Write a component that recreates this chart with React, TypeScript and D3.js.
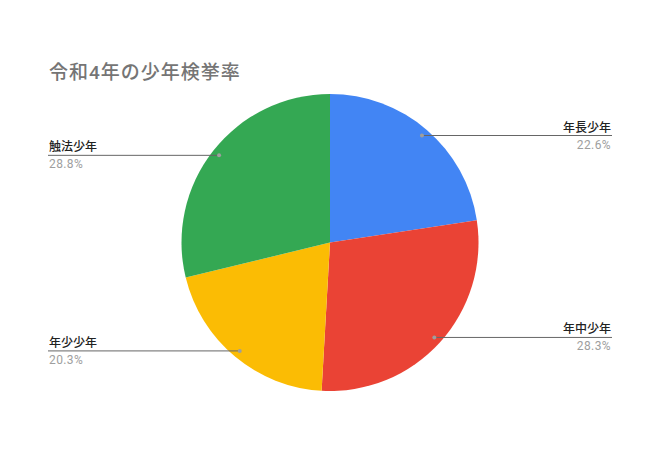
import React from "react";
import * as d3 from "d3";

const categories = ["年長少年", "年中少年", "年少少年", "触法少年"];
const values = [22.6, 28.3, 20.3, 28.8];
const colors = ["#4285f4", "#ea4335", "#fbbc04", "#34a853"];
const title = "令和4年の少年検挙率";

const W = 660;
const H = 450;
const cx = 330;
const cy = 242.5;
const R = 148.5;
const FONT = "Roboto, 'Noto Sans CJK JP', Arial, sans-serif";

export default function App() {
  const pie = d3.pie<number>().sort(null).value((d) => d)(values);
  const arc = d3.arc<d3.PieArcDatum<number>>().innerRadius(0).outerRadius(R);
  const total = d3.sum(values);
  return (
    <div style={{ position: "fixed", left: 0, top: 0 }}>
      <svg width={W} height={H} style={{ display: "block", background: "#fff" }}>
        <text x={49} y={79} fontFamily={FONT} fontSize={19} fontWeight={500} fill="#757575" letterSpacing={1}>
          {title}
        </text>
        <g transform={`translate(${cx},${cy})`}>
          {pie.map((p, i) => (
            <path key={i} d={arc(p) || ""} fill={colors[i]} />
          ))}
        </g>
        {pie.map((p, i) => {
          const mid = (p.startAngle + p.endAngle) / 2;
          const dr = R * 0.95;
          const dx = cx + Math.sin(mid) * dr;
          const dy = cy - Math.cos(mid) * dr;
          const right = Math.sin(mid) > 0;
          const x1 = right ? dx : 48;
          const x2 = right ? 612 : dx;
          const tx = right ? 611 : 49;
          const anchor = right ? "end" : "start";
          const pct = ((p.data / total) * 100).toFixed(1) + "%";
          return (
            <g key={i}>
              <line x1={x1} x2={x2} y1={dy} y2={dy} stroke="#666666" strokeWidth={1} />
              <circle cx={dx} cy={dy} r={2} fill="#9e9e9e" />
              <text x={tx} y={dy - 4} textAnchor={anchor} fontFamily={FONT} fontSize={12} fontWeight={500} fill="#222222">
                {categories[i]}
              </text>
              <text x={tx} y={dy + 13} textAnchor={anchor} fontFamily={FONT} fontSize={12} fill="#9e9e9e" letterSpacing={0.4}>
                {pct}
              </text>
            </g>
          );
        })}
      </svg>
    </div>
  );
}
